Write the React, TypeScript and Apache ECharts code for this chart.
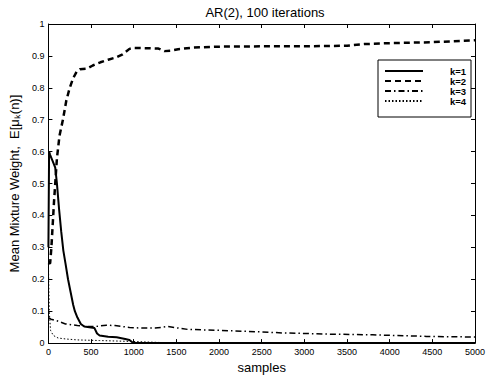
import React, { useEffect, useRef } from "react";
import * as echarts from "echarts";

const titleText = "AR(2), 100 iterations";
const xName = "samples";
const yName = "Mean Mixture Weight,  E[μₖ(n)]";
const seriesNames = ["k=1", "k=2", "k=3", "k=4"];

const k1: [number, number][] = [
  [0, 0.3], [8, 0.6], [20, 0.59], [50, 0.57], [80, 0.55], [100, 0.5], [125, 0.42],
  [150, 0.35], [175, 0.29], [200, 0.25], [230, 0.2], [260, 0.16], [290, 0.12],
  [310, 0.1], [340, 0.08], [380, 0.06], [420, 0.052], [480, 0.05], [540, 0.047],
  [570, 0.03], [600, 0.024], [700, 0.02], [800, 0.018], [900, 0.013], [950, 0.01],
  [990, 0.001], [1100, 0], [5000, 0],
];
const k2: [number, number][] = [
  [0, 0.25], [20, 0.25], [35, 0.3], [50, 0.37], [65, 0.44], [80, 0.5], [100, 0.58],
  [130, 0.65], [170, 0.7], [210, 0.76], [250, 0.8], [290, 0.83], [330, 0.85],
  [370, 0.858], [450, 0.86], [520, 0.87], [610, 0.88], [700, 0.888], [790, 0.895],
  [870, 0.905], [950, 0.922], [1000, 0.925], [1150, 0.924], [1290, 0.923],
  [1360, 0.915], [1450, 0.917], [1520, 0.921], [1700, 0.926], [2000, 0.929],
  [2500, 0.93], [3000, 0.93], [3500, 0.932], [3700, 0.937], [4000, 0.94],
  [4500, 0.943], [5000, 0.949],
];
const k3: [number, number][] = [
  [0, 0.08], [30, 0.075], [100, 0.07], [200, 0.06], [340, 0.055], [450, 0.052],
  [550, 0.052], [680, 0.056], [780, 0.055], [950, 0.049], [1100, 0.047],
  [1250, 0.047], [1400, 0.052], [1500, 0.048], [1630, 0.043], [2000, 0.04],
  [2500, 0.035], [2740, 0.032], [3300, 0.028], [3800, 0.026], [4430, 0.021],
  [5000, 0.019],
];
const k4: [number, number][] = [
  [0, 0.25], [10, 0.1], [25, 0.04], [57, 0.024], [113, 0.016], [200, 0.013],
  [340, 0.01], [600, 0.008], [1000, 0.005], [1300, 0.002], [1500, 0], [5000, 0],
];

const FONT = "Liberation Sans, Arial, sans-serif";

export default function App() {
  const ref = useRef<HTMLDivElement>(null);
  useEffect(() => {
    if (!ref.current) return;
    const chart = echarts.init(ref.current, undefined, { renderer: "svg" });
    const lineStyles = [
      { width: 2, type: "solid" as any },
      { width: 2.5, type: [6, 4] as any },
      { width: 1.5, type: [6, 3, 1.5, 3] as any },
      { width: 1, type: [1.5, 2] as any },
    ];
    const datas = [k1, k2, k3, k4];
    const axisCommon = {
      axisLine: { show: true, onZero: false, lineStyle: { color: "#000", width: 1 } },
      axisTick: { show: true, inside: true, length: 4, lineStyle: { color: "#000" } },
      splitLine: { show: false },
    };
    chart.setOption({
      animation: false,
      backgroundColor: "#fff",
      title: {
        text: titleText,
        left: 260,
        textAlign: "center",
        top: 1,
        textStyle: { fontFamily: FONT, fontSize: 13, fontWeight: "normal", color: "#000" },
      },
      grid: { left: 43, right: 10, top: 24, bottom: 28, containLabel: false },
      legend: {
        orient: "vertical",
        left: 378,
        top: 60,
        data: seriesNames,
        itemWidth: 38,
        itemHeight: 9,
        itemGap: 0,
        backgroundColor: "#fff",
        borderColor: "#000",
        borderWidth: 1,
        borderRadius: 0,
        padding: [6, 5, 11, 6],
        itemStyle: { opacity: 0 },
        formatter: (name: string) => "{a|" + name + "}",
        textStyle: {
          fontFamily: FONT,
          fontSize: 9.5,
          fontWeight: "bold",
          color: "#000",
          rich: {
            a: {
              fontFamily: FONT,
              fontSize: 9.5,
              fontWeight: "bold",
              color: "#000",
              width: 38,
              align: "right",
              lineHeight: 9,
            },
          },
        },
      },
      xAxis: [
        {
          type: "value",
          min: 0,
          max: 5000,
          interval: 500,
          name: xName,
          nameLocation: "middle",
          nameGap: 15,
          nameTextStyle: { fontFamily: FONT, fontSize: 13, color: "#000" },
          axisLabel: {
            fontFamily: FONT,
            fontSize: 9,
            color: "#000",
            margin: 4,
            formatter: (v: number) => String(v),
          },
          ...axisCommon,
        },
        {
          type: "value",
          min: 0,
          max: 5000,
          interval: 500,
          position: "top",
          axisLabel: { show: false },
          ...axisCommon,
        },
      ],
      yAxis: [
        {
          type: "value",
          min: 0,
          max: 1,
          interval: 0.1,
          name: yName,
          nameLocation: "middle",
          nameGap: 26,
          nameTextStyle: { fontFamily: FONT, fontSize: 13, color: "#000" },
          axisLabel: { fontFamily: FONT, fontSize: 9, color: "#000", margin: 4 },
          ...axisCommon,
        },
        {
          type: "value",
          min: 0,
          max: 1,
          interval: 0.1,
          position: "right",
          axisLabel: { show: false },
          ...axisCommon,
        },
      ],
      series: datas.map((d, i) => ({
        name: seriesNames[i],
        type: "line",
        data: d,
        symbol: "none",
        xAxisIndex: 0,
        yAxisIndex: 0,
        lineStyle: { color: "#000", ...lineStyles[i] },
        itemStyle: { color: "#000" },
      })),
    });
    return () => chart.dispose();
  }, []);
  return <div ref={ref} style={{ width: 488, height: 379, position: "absolute", left: 0, top: 0 }} />;
}
